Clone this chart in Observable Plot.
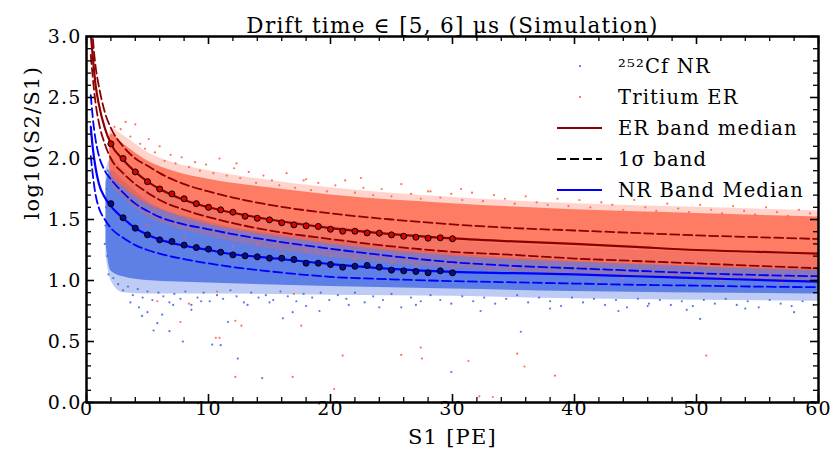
<!DOCTYPE html>
<html><head><meta charset="utf-8">
<script src="https://cdn.jsdelivr.net/npm/d3@7"></script>
<script src="https://cdn.jsdelivr.net/npm/@observablehq/plot@0.6"></script>
<style>body{margin:0;background:#fff} svg{display:block} svg text{letter-spacing:0.06em}</style>
</head><body><div id="chart"></div>
<script>
// ---------- data ----------
const title = "Drift time \u2208 [5, 6] \u03bcs (Simulation)";
const xLabel = "S1 [PE]";
const yLabel = "log10(S2/S1)";
const xMajor = [0, 10, 20, 30, 40, 50, 60];
const xMinor = [2,4,6,8,12,14,16,18,22,24,26,28,32,34,36,38,42,44,46,48,52,54,56,58];
const yMajor = [0, 0.5, 1, 1.5, 2, 2.5, 3];
const yMinor = [0.1,0.2,0.3,0.4,0.6,0.7,0.8,0.9,1.1,1.2,1.3,1.4,1.6,1.7,1.8,1.9,2.1,2.2,2.3,2.4,2.6,2.7,2.8,2.9];
const legendLabels = ["\u00b2\u2075\u00b2Cf NR", "Tritium ER", "ER band median", "1\u03c3 band", "NR Band Median"];

// band curves
const lineS1   = [0.35,0.5,0.75,1,1.5,2,3,4,5,6,8,10,12,15,20,25,30,35,40,45,50,55,60];
const erMedian = [3.03,2.85,2.6,2.45,2.25,2.12,1.99,1.89,1.81,1.75,1.66,1.60,1.555,1.50,1.43,1.38,1.345,1.32,1.30,1.275,1.25,1.235,1.22];
const erUpper  = [3.3,3.02,2.75,2.6,2.38,2.25,2.1,2.0,1.94,1.88,1.79,1.73,1.68,1.62,1.55,1.5,1.46,1.43,1.41,1.39,1.37,1.355,1.34];
const erLower  = [2.85,2.68,2.45,2.3,2.12,2.0,1.88,1.79,1.72,1.66,1.58,1.52,1.47,1.41,1.34,1.28,1.235,1.21,1.18,1.16,1.14,1.12,1.10];
const nrMedian = [2.26,2.1,1.92,1.8,1.68,1.61,1.51,1.43,1.375,1.335,1.285,1.25,1.215,1.185,1.135,1.095,1.07,1.06,1.05,1.035,1.02,1.005,0.99];
const nrUpper  = [2.52,2.35,2.15,2.03,1.9,1.83,1.72,1.63,1.57,1.52,1.46,1.42,1.38,1.33,1.26,1.2,1.15,1.12,1.1,1.08,1.06,1.045,1.035];
const nrLower  = [2.02,1.88,1.7,1.6,1.5,1.43,1.35,1.29,1.25,1.22,1.175,1.14,1.11,1.075,1.03,1.01,0.995,0.985,0.975,0.965,0.958,0.95,0.945];

// binned medians (circles)
const binS1    = [2,3,4,5,6,7,8,9,10,11,12,13,14,15,16,17,18,19,20,21,22,23,24,25,26,27,28,29,30];
const erBinMed = [2.12,2.0,1.89,1.81,1.75,1.71,1.67,1.63,1.60,1.579,1.56,1.527,1.51,1.497,1.473,1.456,1.448,1.443,1.42,1.404,1.404,1.39,1.388,1.374,1.363,1.355,1.347,1.35,1.342];
const nrBinMed = [1.63,1.514,1.429,1.374,1.333,1.32,1.29,1.27,1.257,1.232,1.21,1.202,1.194,1.183,1.183,1.172,1.142,1.142,1.131,1.109,1.117,1.123,1.109,1.085,1.079,1.074,1.063,1.079,1.063];

// dense cores and looser halos of the two scatter clouds
const erCloudS1 = [1.9,2,3,5,7,10,15,20,30,40,50,60];
const erCoreLo  = [1.92,1.88,1.77,1.63,1.55,1.46,1.37,1.30,1.20,1.15,1.11,1.08];
const erCoreHi  = [2.18,2.2,2.12,1.98,1.9,1.83,1.76,1.70,1.63,1.58,1.55,1.52];
const erHaloLo  = [1.85,1.8,1.68,1.52,1.44,1.36,1.26,1.19,1.1,1.05,1.01,0.98];
const erHaloHi  = [2.22,2.25,2.19,2.05,1.97,1.9,1.82,1.76,1.68,1.63,1.6,1.57];
const nrCloudS1 = [1.6,2,3,5,10,20,30,40,60];
const nrCoreLo  = [1.3,1.08,1.03,1.0,0.98,0.95,0.93,0.91,0.89];
const nrCoreHi  = [1.8,1.9,1.82,1.65,1.48,1.33,1.22,1.16,1.09];
const nrHaloLo  = [1.2,1.0,0.9,0.89,0.89,0.88,0.87,0.85,0.83];
const nrHaloHi  = [1.9,2.0,1.92,1.78,1.6,1.45,1.33,1.27,1.2];

// individual sparse points (fringes and outliers)
const erScatter = [[2.3,2.26],[2.8,2.24],[3.2,2.30],[3.6,2.18],[4.0,2.28],[4.4,2.12],[4.8,2.08],[5.1,2.16],[5.6,2.05],[6.0,2.10],[6.4,1.98],[6.9,2.03],[7.3,1.96],[7.8,2.01],[8.4,1.93],[8.9,1.97],[9.3,1.90],[9.8,1.95],[10.4,1.88],[10.9,2.0],[11.5,1.86],[12.1,1.92],[12.3,1.96],[12.6,1.84],[13.3,1.89],[13.9,1.80],[14.5,1.86],[15.2,1.82],[15.8,1.78],[16.4,1.88],[17.1,1.76],[17.8,1.82],[18.0,1.83],[18.4,1.74],[19.0,1.80],[19.7,1.73],[20.4,1.78],[21.2,1.82],[22.0,1.72],[22.5,1.84],[22.7,1.76],[23.5,1.70],[24.2,1.75],[25.0,1.69],[25.8,1.79],[26.6,1.71],[27.4,1.67],[28.0,1.73],[28.2,1.73],[29.0,1.68],[29.9,1.71],[30.7,1.75],[30.8,1.66],[31.6,1.72],[32.5,1.65],[33.4,1.70],[34.3,1.67],[35.1,1.63],[36.0,1.69],[36.9,1.64],[37.8,1.62],[38.6,1.67],[39.5,1.61],[40.4,1.66],[41.3,1.60],[42.2,1.64],[43.1,1.62],[44.0,1.58],[44.9,1.66],[45.8,1.60],[46.7,1.57],[47.6,1.63],[48.5,1.59],[49.4,1.56],[50.3,1.62],[51.2,1.58],[52.1,1.55],[53.0,1.61],[53.9,1.57],[54.8,1.54],[55.7,1.60],[56.6,1.56],[57.5,1.53],[58.4,1.58],[59.3,1.55],
  [5,1.45],[8,1.35],[12,1.28],[16,1.22],[18,1.25],[22,1.18],[25,1.15],[27,1.12],[33,1.08],[35,1.1],[38,1.05],[44,1.02],[48,1.05],[52,1.0],[57,0.98],[14,1.3],[20,1.2],[30,1.1],[42,1.0],[55,1.02],
  [5.8,0.83],[8.4,0.81],[7.7,0.66],[12.2,0.67],[12.7,0.63],[10.6,0.53],[10.9,0.53],[12.2,0.21],[16.9,0.21],[17.6,0.63],[20.3,0.11],[21.0,0.385],[25.8,0.39],[27.4,0.45],[27.5,0.36],[17.0,0.89],[10.7,0.91],[31.3,0.34],[35.3,0.40],[35.9,0.295],[38.4,0.22],[50.8,0.385],[32.2,0.05],[33.3,0.045]];
const nrScatter = [[1.5,1.3],[1.6,1.6],[1.55,1.45],[1.7,1.2],[1.65,1.75],[1.75,1.9],[1.8,1.05],
  [2.2,1.02],[2.6,0.97],[3.0,0.92],[3.4,0.95],[3.8,0.88],[4.2,0.93],[4.6,0.86],[5.0,0.91],[5.4,0.84],[5.9,0.9],[6.3,0.87],[6.8,0.82],[7.2,0.89],[7.7,0.85],[8.1,0.91],[8.6,0.8],[9.1,0.86],[9.6,0.9],[10.1,0.83],[10.7,0.88],[11.2,0.85],[11.8,0.92],[12.3,0.87],[12.9,0.82],[13.5,0.9],[14.1,0.86],[14.7,0.88],[15.3,0.84],[15.9,0.91],[16.5,0.87],[17.2,0.83],[17.8,0.89],[18.5,0.86],[19.2,0.9],[19.9,0.84],[20.6,0.88],[21.3,0.85],[22.0,0.9],[22.8,0.82],[23.5,0.87],[24.3,0.84],[25.0,0.89],[25.8,0.78],[26.6,0.86],[27.4,0.83],[28.2,0.88],[29.0,0.84],[29.9,0.81],[30.8,0.87],[31.7,0.83],[32.6,0.86],[33.5,0.81],[34.4,0.85],[35.3,0.88],[36.2,0.82],[37.1,0.86],[38.0,0.83],[38.9,0.79],[39.8,0.86],[40.7,0.82],[41.6,0.85],[42.5,0.8],[43.4,0.84],[44.3,0.78],[45.2,0.85],[46.1,0.81],[47.0,0.84],[47.9,0.8],[48.8,0.83],[49.7,0.79],[50.6,0.84],[51.5,0.81],[52.4,0.85],[53.3,0.8],[54.2,0.83],[55.1,0.78],[56.0,0.84],[56.9,0.81],[57.8,0.79],[58.7,0.83],[59.6,0.8],
  [3.6,0.82],[4.55,0.71],[5.5,0.59],[5.8,0.65],[6.8,0.585],[7.9,0.5],[10.3,0.475],[11.0,0.47],[11.6,0.66],[12.4,0.36],[14.4,0.2],[16.1,0.69],[16.9,0.74],[19.1,0.75],[29.9,0.25],[35.6,0.58],[50.3,0.685],[32.3,0.75],[43.6,0.75],[58.0,0.74],[49.2,0.76],
  [4.3,0.78],[5.0,0.74],[6.2,0.72],[7.1,0.8],[8.6,0.76],[9.4,0.83],[13.2,0.8],[15.0,0.82],[18.0,0.79],[21.5,0.8],[24.0,0.78],[27.0,0.8],[38.0,0.77],[46.0,0.79],[54.0,0.77]];

// ---------- styling ----------
const ER_PT = "#ff6347", NR_PT = "#4169e1";
const ER_LINE = "#8b0000", NR_LINE = "#0000ff";
const serif = "DejaVu Serif";
const W = 833, H = 455, mL = 86, mR = 15, mT = 36, mB = 53;
const pw = W - mL - mR, ph = H - mT - mB;

const pts = (xs, ys) => xs.map((x, i) => ({x, y: ys[i]}));
const band = (xs, lo, hi) => xs.map((x, i) => ({x, lo: lo[i], hi: hi[i]}));
const curve = "monotone-x";

const plot = Plot.plot({
  width: W, height: H,
  marginLeft: mL, marginRight: mR, marginTop: mT, marginBottom: mB,
  x: {domain: [0, 60], axis: null},
  y: {domain: [0, 3], axis: null},
  style: {fontFamily: serif, fontSize: "19px", color: "black", background: "white"},
  marks: [
    Plot.areaY(band(nrCloudS1, nrHaloLo, nrHaloHi), {x: "x", y1: "lo", y2: "hi", fill: NR_PT, fillOpacity: 0.35, curve, clip: true}),
    Plot.areaY(band(nrCloudS1, nrCoreLo, nrCoreHi), {x: "x", y1: "lo", y2: "hi", fill: NR_PT, fillOpacity: 0.78, curve, clip: true}),
    Plot.dot(nrScatter, {x: d => d[0], y: d => d[1], r: 1.1, fill: NR_PT, fillOpacity: 0.9, clip: true}),
    Plot.areaY(band(erCloudS1, erHaloLo, erHaloHi), {x: "x", y1: "lo", y2: "hi", fill: ER_PT, fillOpacity: 0.28, curve, clip: true}),
    Plot.areaY(band(erCloudS1, erCoreLo, erCoreHi), {x: "x", y1: "lo", y2: "hi", fill: ER_PT, fillOpacity: 0.78, curve, clip: true}),
    Plot.dot(erScatter, {x: d => d[0], y: d => d[1], r: 1.1, fill: ER_PT, fillOpacity: 0.9, clip: true}),

    Plot.line(pts(lineS1, erUpper), {x: "x", y: "y", stroke: ER_LINE, strokeWidth: 1.8, strokeDasharray: "9,4", curve, clip: true}),
    Plot.line(pts(lineS1, erLower), {x: "x", y: "y", stroke: ER_LINE, strokeWidth: 1.8, strokeDasharray: "9,4", curve, clip: true}),
    Plot.line(pts(lineS1, nrUpper), {x: "x", y: "y", stroke: NR_LINE, strokeWidth: 1.8, strokeDasharray: "9,4", curve, clip: true}),
    Plot.line(pts(lineS1, nrLower), {x: "x", y: "y", stroke: NR_LINE, strokeWidth: 1.8, strokeDasharray: "9,4", curve, clip: true}),
    Plot.line(pts(lineS1, erMedian), {x: "x", y: "y", stroke: ER_LINE, strokeWidth: 2.2, curve, clip: true}),
    Plot.line(pts(lineS1, nrMedian), {x: "x", y: "y", stroke: NR_LINE, strokeWidth: 2.2, curve, clip: true}),

    Plot.dot(pts(binS1, erBinMed), {x: "x", y: "y", r: 3, fill: "#e00000", stroke: "black", strokeWidth: 1}),
    Plot.dot(pts(binS1, nrBinMed), {x: "x", y: "y", r: 3, fill: "#0a0a90", stroke: "black", strokeWidth: 1}),

    // inward ticks on all four sides
    Plot.tickX(xMajor, {x: d => d, insetTop: ph - 8, stroke: "black", strokeWidth: 1.6}),
    Plot.tickX(xMajor, {x: d => d, insetBottom: ph - 8, stroke: "black", strokeWidth: 1.6}),
    Plot.tickX(xMinor, {x: d => d, insetTop: ph - 5, stroke: "black", strokeWidth: 1.3}),
    Plot.tickX(xMinor, {x: d => d, insetBottom: ph - 5, stroke: "black", strokeWidth: 1.3}),
    Plot.tickY(yMajor, {y: d => d, insetRight: pw - 8, stroke: "black", strokeWidth: 1.6}),
    Plot.tickY(yMajor, {y: d => d, insetLeft: pw - 8, stroke: "black", strokeWidth: 1.6}),
    Plot.tickY(yMinor, {y: d => d, insetRight: pw - 5, stroke: "black", strokeWidth: 1.3}),
    Plot.tickY(yMinor, {y: d => d, insetLeft: pw - 5, stroke: "black", strokeWidth: 1.3}),
    Plot.frame({stroke: "black", strokeWidth: 2.5}),

    // tick labels
    Plot.text(xMajor, {x: d => d, frameAnchor: "bottom", dy: 12, text: d => String(d), fontSize: 19, fill: "black"}),
    Plot.text(yMajor, {y: d => d, frameAnchor: "left", dx: -5, textAnchor: "end", text: d => d.toFixed(1), fontSize: 19, fill: "black"}),
    // axis titles and title
    Plot.text([xLabel], {frameAnchor: "bottom", dy: 41, text: d => d, fontSize: 21, fill: "black"}),
    Plot.text([yLabel], {frameAnchor: "left", dx: -54, rotate: -90, text: d => d, fontSize: 21, fill: "black"}),
    Plot.text([title], {frameAnchor: "top", dy: -19, text: d => d, fontSize: 21.5, fill: "black"})
  ]
});
document.getElementById("chart").appendChild(plot);

// legend inside the axes, upper right
const svg = d3.select(plot);
const lg = svg.append("g").attr("font-family", serif).attr("font-size", 19.5).attr("text-anchor", "start");
const lx = W - mR - 200, ly0 = mT + 30, step = 31;
const kinds = [
  {type: "dot", color: NR_PT},
  {type: "dot", color: ER_PT},
  {type: "line", color: ER_LINE, dash: null},
  {type: "line", color: "black", dash: "9,4"},
  {type: "line", color: NR_LINE, dash: null}
];
legendLabels.forEach((lab, i) => {
  const y = ly0 + i * step;
  const k = kinds[i];
  if (k.type === "dot") {
    lg.append("circle").attr("cx", lx - 38).attr("cy", y).attr("r", 1.1).attr("fill", k.color);
  } else {
    lg.append("line").attr("x1", lx - 61).attr("x2", lx - 16).attr("y1", y).attr("y2", y)
      .attr("stroke", k.color).attr("stroke-width", 2.2).attr("stroke-dasharray", k.dash);
  }
  lg.append("text").attr("x", lx).attr("y", y).attr("dy", "0.35em").attr("text-anchor", "start").attr("fill", "black").text(lab);
});
</script>
</body></html>
